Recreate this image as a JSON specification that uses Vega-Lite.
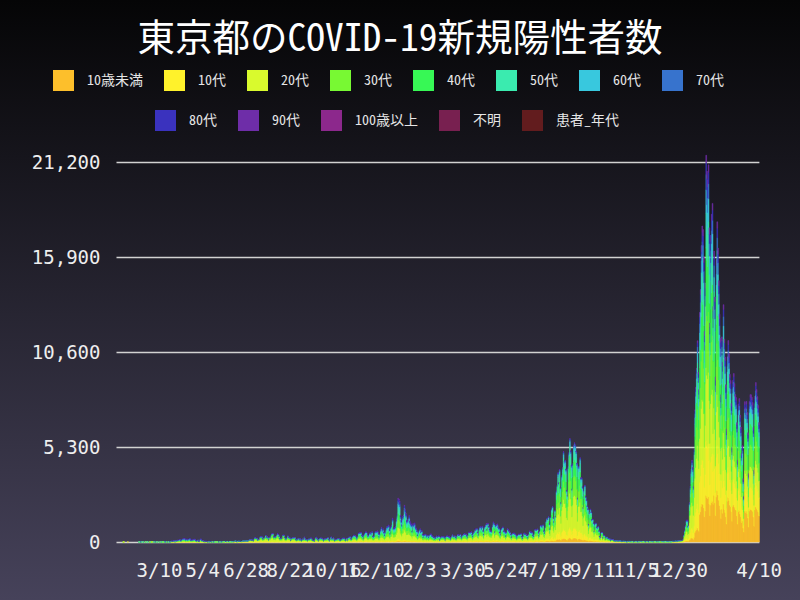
{
"$schema":"https://vega.github.io/schema/vega-lite/v6.json",
"width":800,"height":600,"autosize":"none","padding":0,
"background":"#25232e",
"view":{"stroke":null,"fill":{"gradient":"linear","x1":0,"y1":0,"x2":0,"y2":1,"stops":[{"offset":0,"color":"#050506"},{"offset":1,"color":"#46425a"}]}},
"title":{"text":"東京都のCOVID-19新規陽性者数","fontSize":37.5,"font":"Noto Sans Mono CJK JP, Noto Sans CJK JP, DejaVu Sans Mono","fontWeight":"normal","color":"#ffffff","anchor":"middle","offset":-58},
"data":{"values":"d,10歳未満,10代,20代,30代,40代,50代,60代,70代,80代,90代\n200124,0,0,0,0,1\n200125,0,0,0,1\n200130,0,0,1\n200213,0,0,0,0,0,0,0,1\n200214,0,0,0,0,0,1,1\n200215,0,0,1,1,1,2,1,1,1\n200216,0,0,1,1,1,1,0,1\n200218,0,0,0,1,0,1,1\n200219,0,0,1,0,1,0,0,1\n200221,0,0,0,0,1,1,0,1\n200222,0,0,0,0,0,0,1\n200224,0,0,1,0,1,0,1\n200226,0,0,0,1,0,1,0,0,1\n200227,0,0,0,0,1\n200228,0,0,0,0,0,0,1\n200229,0,0,0,1\n200301,0,0,0,0,0,1\n200302,0,0,1\n200303,0,0,0,1,1,0,0,1\n200304,0,0,1,1,1,1,1,1\n200305,0,0,1,1,2,1,1,1,1\n200306,0,0,1,1,1,1,1,1\n200307,0,0,0,0,1,0,1\n200308,0,0,1,0,0,1,0,1\n200310,0,0,0,1,0,0,1\n200311,0,0,1,1,1,1,1,1,1\n200312,0,0,1,1,1,1,1\n200313,0,0,1,0,1,0,0,1\n200314,0,0,0,1,0,1\n200315,0,0,0,0,0,1\n200316,0,0,1,1,0,1,1\n200317,0,0,2,2,2,1,1,1,1\n200318,0,0,2,1,2,1,1,1,1\n200319,0,0,1,0,1,1\n200320,0,0,2,2,2,2,1,1,1\n200321,0,0,1,1,1,1,1,1,1\n200322,0,0,1,1,1,1,1\n200323,0,0,3,3,3,2,2,2,1\n200324,0,0,3,3,3,3,2,2,1\n200325,0,1,8,7,7,6,5,4,3\n200326,1,1,9,8,7,7,5,4,3,2\n200327,0,1,8,7,6,6,5,4,2,1\n200328,1,1,12,11,10,9,7,6,4,2\n200329,1,1,13,12,11,10,8,6,4,2\n200330,0,0,3,2,2,2,2,1,1\n200331,1,2,15,13,12,12,9,7,5,2\n200401,1,1,13,11,11,10,7,6,5,1\n200402,1,2,18,17,16,15,11,9,6,2\n200403,1,2,17,15,14,13,10,8,6,3\n200404,1,2,22,20,19,17,13,10,8,4\n200405,1,3,27,24,23,22,16,13,10,4\n200406,1,2,16,14,13,12,9,8,6,2\n200407,1,2,15,13,13,12,9,7,5,2\n200408,1,3,27,25,23,22,16,13,10,4\n200409,2,4,34,30,28,27,20,16,12,5\n200410,2,4,36,32,30,28,21,17,13,6\n200411,2,4,37,34,32,30,22,18,13,5\n200412,2,3,32,28,27,25,18,15,12,4\n200413,1,2,17,15,15,14,10,8,6,3\n200414,2,3,31,27,26,24,18,14,11,5\n200415,1,3,24,22,20,19,14,11,9,4\n200416,1,3,28,25,24,22,16,14,11,5\n200417,2,4,38,34,32,30,22,18,15,6\n200418,2,4,34,31,29,27,20,16,13,5\n200419,1,2,20,18,17,16,12,10,8,3\n200420,1,2,19,17,16,15,12,9,8,3\n200421,1,2,23,21,20,18,14,11,9,4\n200422,1,3,25,22,21,20,15,12,9,4\n200423,1,3,25,23,21,20,15,12,10,4\n200424,2,3,31,27,26,24,18,14,11,5\n200425,1,2,20,17,16,15,12,9,8,3\n200426,1,1,14,12,12,11,8,6,5,2\n200427,0,1,7,7,6,6,5,4,2,1\n200428,1,2,21,19,18,17,12,10,8,4\n200429,1,1,9,8,7,7,5,4,3,2\n200430,0,1,9,8,7,7,5,4,3,2\n200501,2,3,31,28,26,25,18,15,12,5\n200502,2,3,30,27,26,24,18,14,11,5\n200503,1,2,17,15,15,14,10,8,6,3\n200504,1,2,17,15,14,13,10,8,5,2\n200505,1,1,11,10,9,9,6,5,4,2\n200506,0,1,7,7,6,6,4,4,2,1\n200507,0,0,5,4,4,3,3,2,1,1\n200508,0,1,7,7,6,6,5,4,2,1\n200509,0,1,7,6,6,5,4,4,2,1\n200510,0,0,4,4,4,3,3,2,1,1\n200511,0,0,3,3,2,2,2,1,1,1\n200512,0,1,5,5,5,4,3,3,2\n200513,0,0,2,2,2,1,1,1,1\n200514,0,1,6,5,5,4,4,3,2\n200515,0,0,2,2,1,1,1,1,1\n200516,0,0,3,3,2,2,2,1,1\n200517,0,0,1,1,1,1,1\n200518,0,0,2,2,2,1,1,1,1\n200519,0,0,1,1,1,1,1\n200520,0,0,1,1,1,1,1\n200521,0,0,1,1,1\n200522,0,0,1,0,1,0,1\n200523,0,0,1,0,0,1\n200524,0,0,4,3,2,2,1,1,1\n200525,0,0,2,2,1,1,1,1\n200526,0,0,3,2,2,1,1,1\n200527,0,0,3,2,2,2,1,1\n200528,0,0,4,3,3,2,1,1,1\n200529,0,1,7,5,3,3,2,1\n200530,0,0,5,3,2,2,1,1\n200531,0,0,2,1,1,1\n200601,0,1,5,3,2,1,1\n200602,0,1,14,8,4,3,2,1,1\n200603,0,0,5,3,2,1,1\n200604,0,1,12,7,3,2,1,1,1\n200605,0,1,8,5,3,2,1\n200606,0,1,11,6,3,2,1,1,1\n200607,0,1,6,3,2,1,1\n200608,0,1,5,3,2,1,1\n200609,0,0,5,3,2,1,1\n200610,0,1,7,4,2,2,1,1\n200611,0,1,9,5,3,2,1,1\n200612,0,1,10,6,3,2,1,1,1\n200613,0,1,10,6,3,2,1,1\n200614,0,2,19,11,6,4,2,2,1\n200615,1,2,20,11,6,4,2,1,1\n200616,0,1,11,7,3,2,1,1,1\n200617,0,1,7,4,2,1,1\n200618,0,2,17,10,5,3,2,1,1\n200619,0,1,15,8,4,3,2,1,1\n200620,0,2,16,9,5,3,2,1,1\n200621,0,1,15,8,4,3,2,1,1\n200622,0,1,12,7,4,2,1,1,1\n200623,0,1,13,7,4,3,1,1,1\n200624,1,2,23,13,7,4,2,2,1\n200625,1,2,20,11,6,4,2,1,1\n200626,1,2,22,13,7,4,2,2,1\n200627,1,2,23,14,7,5,2,2,1\n200628,1,2,25,14,7,5,2,2,1,1\n200629,1,2,24,14,7,5,2,2,1\n200630,1,2,22,13,7,4,2,2,1\n200701,1,3,27,16,8,5,3,2,1,1\n200702,1,4,44,26,13,9,4,3,2,1\n200703,1,5,51,30,15,10,5,4,2,1\n200704,1,5,54,31,16,10,5,4,3,2\n200705,1,4,46,27,13,9,4,3,3,1\n200706,1,4,42,24,12,8,4,3,3,1\n200707,1,4,43,25,13,9,4,3,3,1\n200708,1,3,31,18,9,6,3,2,1,1\n200709,2,9,92,54,27,18,9,7,4,2\n200710,2,10,100,58,29,19,10,7,5,3\n200711,2,8,84,49,25,17,8,6,5,2\n200712,2,8,84,49,25,17,8,6,5,2\n200713,1,5,49,29,14,10,5,3,2,1\n200714,1,6,59,34,17,11,6,4,3,2\n200715,2,7,68,40,20,13,7,5,2,1\n200716,3,11,117,69,34,23,11,9,6,3\n200717,3,12,120,70,35,23,12,9,6,3\n200718,3,12,119,70,35,23,11,9,5,3\n200719,2,8,77,45,23,15,8,6,3,1\n200720,2,7,69,40,20,13,7,5,3,2\n200721,2,9,97,57,28,19,10,7,5,3\n200722,2,10,97,57,28,19,10,7,5,3\n200723,4,15,150,88,44,29,15,11,7,3\n200724,3,10,107,62,31,21,10,8,5,3\n200725,3,12,121,71,35,24,12,9,6,2\n200726,2,10,98,57,29,19,10,7,5,2\n200727,1,5,54,31,16,10,5,4,3,2\n200728,3,11,109,64,32,21,11,8,5,2\n200729,3,10,102,60,30,20,10,8,5,2\n200730,4,15,150,88,44,29,15,11,8,3\n200731,5,19,190,111,56,37,18,14,9,4\n200801,5,19,194,113,57,38,19,14,9,4\n200802,3,12,120,70,35,23,12,9,6,2\n200803,3,10,106,62,31,21,10,8,5,2\n200804,3,12,127,74,37,25,12,9,7,3\n200805,3,11,108,63,32,21,10,8,5,2\n200806,4,14,148,86,43,29,14,11,7,4\n200807,5,18,189,111,55,37,19,14,9,5\n200808,4,17,176,103,51,34,17,13,9,5\n200809,3,13,136,79,40,26,13,10,7,4\n200810,2,8,81,47,24,16,8,6,4,1\n200811,2,8,77,45,23,15,8,6,3,1\n200812,2,9,91,53,27,18,9,7,4,2\n200813,2,8,84,49,25,17,8,6,5,2\n200814,4,16,159,93,47,31,16,12,8,3\n200815,4,15,158,92,46,31,15,12,8,4\n200816,3,10,107,62,31,21,10,8,5,3\n200817,2,6,66,39,19,13,6,5,3,2\n200818,2,8,85,50,25,17,8,6,4,2\n200819,2,7,76,45,22,15,8,6,4,1\n200820,3,14,139,81,41,27,14,10,7,3\n200821,3,10,106,62,31,21,10,8,5,2\n200822,3,10,105,61,31,20,10,8,5,3\n200823,2,8,87,51,25,17,9,6,5,2\n200824,1,4,39,23,11,8,4,3,1,1\n200825,2,7,75,44,22,15,7,5,4,1\n200826,2,9,97,57,28,19,9,7,5,3\n200827,3,10,102,60,30,20,10,8,5,2\n200828,2,9,93,54,27,18,9,7,5,2\n200829,2,10,101,59,30,20,10,7,5,3\n200830,1,6,61,36,18,12,6,4,3,1\n200831,1,4,41,24,12,8,4,3,2,1\n200901,5,12,48,32,26,19,12,8,5,3\n200902,4,10,39,27,21,16,10,7,4,3\n200903,6,15,59,40,32,23,15,11,6,4\n200904,4,10,38,26,20,15,10,7,4,2\n200905,5,13,51,34,27,20,13,9,6,3\n200906,3,8,32,22,17,13,8,6,4,3\n200907,2,5,22,15,12,8,5,4,3,1\n200908,5,12,48,32,26,19,12,8,5,3\n200909,4,10,42,28,22,16,10,8,5,4\n200910,8,19,77,52,41,30,19,14,9,7\n200911,6,13,52,36,28,21,13,9,6,3\n200912,4,10,41,28,22,16,10,7,5,3\n200913,4,10,41,28,22,16,10,7,5,3\n200914,2,6,22,15,12,9,6,4,3,1\n200915,5,11,45,31,24,18,11,8,5,4\n200916,5,11,46,31,24,18,11,8,5,4\n200917,5,12,48,33,26,19,12,9,5,3\n200918,7,15,62,42,33,24,15,11,7,4\n200919,7,15,61,41,33,24,15,11,7,4\n200920,4,9,37,25,20,15,9,7,4,2\n200921,3,7,27,19,15,11,7,5,3,1\n200922,3,6,25,17,13,10,6,4,3,1\n200923,2,4,17,11,9,6,4,3,2,1\n200924,6,14,55,37,29,21,14,10,6,3\n200925,8,19,76,51,40,30,19,14,8,5\n200926,7,15,61,42,33,24,15,11,7,4\n200927,4,10,41,28,22,16,10,7,4,3\n200928,2,5,22,15,12,9,5,4,3,1\n200929,6,13,53,36,29,21,13,10,6,4\n200930,6,14,54,37,29,21,14,10,6,3\n201001,7,16,66,45,35,26,16,12,7,5\n201002,6,14,55,37,29,22,14,10,6,3\n201003,6,15,58,40,31,23,15,10,6,4\n201004,4,10,40,27,21,16,10,7,4,3\n201005,2,5,22,15,12,8,5,4,3,1\n201006,5,12,50,34,27,20,12,9,5,4\n201007,5,12,50,34,27,19,12,9,5,4\n201008,6,14,57,39,30,22,14,10,6,5\n201009,6,13,52,35,28,20,13,9,6,4\n201010,7,17,70,47,37,27,17,12,8,7\n201011,4,10,41,28,22,16,10,7,5,3\n201012,2,5,22,15,12,9,5,4,3,1\n201013,5,12,46,32,25,18,12,8,5,3\n201014,9,20,80,54,43,31,20,14,8,5\n201015,6,13,52,35,28,20,13,9,6,4\n201016,6,13,52,35,28,20,13,9,5,3\n201017,7,16,66,45,35,26,16,12,7,5\n201018,4,9,37,25,20,15,9,7,4,2\n201019,2,5,22,15,12,9,5,4,3,1\n201020,4,10,39,26,21,15,10,7,4,3\n201021,5,11,42,29,22,16,10,7,5,3\n201022,6,13,52,35,28,20,13,9,6,3\n201023,6,13,52,35,28,20,13,9,6,4\n201024,6,14,57,39,30,22,14,10,6,5\n201025,4,9,35,24,19,14,8,6,3,2\n201026,3,7,29,19,15,11,7,5,4,2\n201027,5,11,44,30,24,17,11,8,5,3\n201028,5,12,48,32,26,19,12,9,5,3\n201029,7,15,62,42,33,24,15,11,7,5\n201030,6,15,60,41,32,24,15,11,7,4\n201031,6,15,60,41,32,24,15,11,7,4\n201101,3,8,32,22,17,13,8,6,4,3\n201102,3,6,24,17,13,10,6,4,3,1\n201103,6,15,59,40,31,23,15,10,6,4\n201104,4,9,34,23,18,13,9,6,4,2\n201105,8,19,75,51,40,30,19,13,8,6\n201106,7,17,68,46,36,27,17,12,7,5\n201107,9,21,82,56,44,32,21,15,9,5\n201108,6,13,53,36,28,21,13,9,6,4\n201109,5,11,44,30,24,17,11,8,5,2\n201110,9,21,82,56,44,32,20,15,9,5\n201111,10,22,89,60,48,35,22,16,10,5\n201112,12,28,110,75,59,43,27,20,12,7\n201113,11,26,105,71,56,41,26,19,11,8\n201114,11,25,99,67,53,39,24,18,10,6\n201115,8,18,71,48,38,28,18,13,8,5\n201116,5,13,50,34,27,20,13,9,6,3\n201117,9,21,83,57,45,33,21,15,9,5\n201118,15,35,138,94,74,54,34,25,15,9\n201119,16,37,150,101,80,59,37,27,16,11\n201120,16,37,146,99,78,57,37,26,16,10\n201121,16,38,151,102,81,59,38,27,16,11\n201122,12,27,109,74,59,43,27,20,12,8\n201123,9,22,88,60,47,35,22,16,9,6\n201124,6,13,52,35,28,20,13,9,6,4\n201125,12,28,112,76,60,44,28,20,12,9\n201126,14,34,135,91,72,53,34,24,14,10\n201127,17,40,160,108,86,63,40,28,17,11\n201128,17,39,157,107,84,62,39,28,17,11\n201129,13,29,117,79,63,46,29,21,13,8\n201130,9,22,87,59,47,34,22,16,9,6\n201201,7,19,97,67,56,48,30,22,19,7\n201202,10,25,130,90,75,65,40,30,25,10\n201203,11,27,139,96,80,69,43,32,26,10\n201204,9,22,117,81,67,58,36,27,23,9\n201205,12,29,152,105,88,76,47,35,29,11\n201206,7,16,85,59,49,43,26,20,16,6\n201207,6,15,78,54,45,39,24,18,14,6\n201208,7,18,92,63,53,46,28,21,17,7\n201209,11,29,149,103,86,74,46,34,29,11\n201210,12,30,157,108,90,78,48,36,30,13\n201211,12,30,155,107,89,77,48,36,30,11\n201212,12,31,161,112,93,81,50,37,31,13\n201213,10,24,125,86,72,62,38,29,24,10\n201214,6,15,79,55,46,40,24,18,15,7\n201215,9,23,120,83,69,60,37,28,23,8\n201216,14,34,176,122,102,88,54,41,34,13\n201217,16,41,214,148,123,107,66,49,41,17\n201218,13,33,173,120,100,86,53,40,33,13\n201219,15,37,191,132,110,96,59,44,37,15\n201220,11,28,145,100,83,72,44,33,28,12\n201221,8,20,102,71,59,51,31,24,20,6\n201222,11,28,146,101,84,73,45,34,28,13\n201223,15,37,194,135,112,97,60,45,37,16\n201224,18,44,231,160,133,115,71,53,44,19\n201225,18,44,230,159,133,115,71,53,44,17\n201226,19,47,247,171,142,123,76,57,47,20\n201227,14,35,184,127,106,92,57,42,35,16\n201228,10,24,125,87,72,63,38,29,24,9\n201229,17,43,223,154,128,111,68,51,43,18\n201230,19,47,245,170,142,123,76,57,47,18\n201231,27,67,348,241,200,174,107,80,67,26\n210101,16,39,204,141,117,102,63,47,39,15\n210102,16,41,212,147,122,106,65,49,41,15\n210103,16,41,212,147,122,106,65,49,41,17\n210104,18,44,230,159,133,115,71,53,44,17\n210105,26,64,332,230,192,166,102,77,64,25\n210106,32,80,414,286,239,207,127,95,80,31\n210107,49,122,636,440,367,318,196,147,122,50\n210108,48,120,622,431,359,311,191,144,120,46\n210109,45,113,590,408,340,295,181,136,113,47\n210110,30,75,388,269,224,194,120,90,75,29\n210111,24,61,317,219,183,158,98,73,61,25\n210112,19,49,252,175,146,126,78,58,49,18\n210113,29,72,373,258,215,186,115,86,72,27\n210114,30,75,391,270,225,195,120,90,75,31\n210115,41,102,531,368,307,266,164,123,102,40\n210116,36,90,470,326,271,235,145,109,90,37\n210117,32,80,414,287,239,207,127,95,80,31\n210118,24,60,313,217,181,157,96,72,60,24\n210119,25,62,322,223,186,161,99,74,62,26\n210120,25,64,331,229,191,166,102,76,64,26\n210121,29,74,382,265,221,191,118,88,74,29\n210122,24,59,306,211,176,153,94,70,59,23\n210123,21,54,278,193,160,139,86,64,54,21\n210124,20,49,256,177,148,128,79,59,49,21\n210125,12,31,161,111,93,80,49,37,31,13\n210126,21,51,267,185,154,133,82,62,51,20\n210127,19,49,253,175,146,126,78,58,49,20\n210128,21,53,277,192,160,138,85,64,53,21\n210129,17,43,226,156,130,113,69,52,43,19\n210130,15,38,200,138,115,100,62,46,38,17\n210131,13,32,165,114,95,82,51,38,32,11\n210201,8,20,102,71,59,51,31,24,20,7\n210202,11,28,145,100,83,72,44,33,28,12\n210203,14,34,176,122,101,88,54,41,34,12\n210204,15,37,191,132,110,95,59,44,37,14\n210205,12,29,150,104,87,75,46,35,29,10\n210206,13,32,166,115,96,83,51,38,32,13\n210207,9,21,112,77,64,56,34,26,21,9\n210208,6,14,72,50,41,36,22,17,14,4\n210209,8,21,107,74,62,54,33,25,21,7\n210210,8,21,107,74,62,54,33,25,21,7\n210211,9,22,113,78,65,56,35,26,22,8\n210212,6,15,80,55,46,40,25,18,15,7\n210213,7,18,96,66,55,48,30,22,18,9\n210214,7,19,96,67,56,48,30,22,19,7\n210215,5,13,69,48,40,35,21,16,13,6\n210216,8,19,98,68,57,49,30,23,19,7\n210217,9,22,116,80,67,58,36,27,22,8\n210218,9,22,116,80,67,58,36,27,22,8\n210219,7,18,92,64,53,46,28,21,18,6\n210220,7,16,85,59,49,43,26,20,16,6\n210221,5,14,71,49,41,35,22,16,14,5\n210222,4,9,46,32,27,23,14,11,9,3\n210223,6,14,72,50,41,36,22,16,13,5\n210224,4,11,55,38,32,28,17,13,11,4\n210225,7,17,88,61,51,44,27,20,17,8\n210226,5,14,70,49,41,35,22,16,13,5\n210227,7,17,88,61,51,44,27,20,17,5\n210228,7,16,86,59,49,43,26,20,16,7\n210301,4,10,38,22,18,13,7,5,2,2\n210302,7,19,72,42,35,25,14,9,5,4\n210303,9,25,98,57,47,35,19,13,7,6\n210304,8,22,86,50,42,31,17,11,6,6\n210305,9,24,93,54,45,33,18,12,7,6\n210306,9,23,91,53,44,32,18,12,6,5\n210307,7,19,73,43,36,26,14,9,5,5\n210308,3,9,36,21,17,13,7,5,3,2\n210309,9,23,90,52,44,32,17,12,6,5\n210310,10,27,105,61,51,37,20,14,8,7\n210311,10,27,104,60,50,37,20,13,8,6\n210312,9,24,94,55,46,33,18,12,7,6\n210313,9,23,90,52,43,32,17,12,6,5\n210314,7,19,74,43,36,26,14,10,5,5\n210315,5,14,54,32,26,19,11,7,4,3\n210316,9,24,93,54,45,33,18,12,6,6\n210317,12,33,127,74,61,45,25,16,9,7\n210318,10,26,100,58,48,36,19,13,7,6\n210319,9,24,94,55,45,33,18,12,7,6\n210320,10,27,106,62,51,38,21,14,7,6\n210321,8,20,79,46,38,28,15,10,6,6\n210322,6,15,58,34,28,21,11,7,4,3\n210323,10,27,104,61,51,37,20,13,7,7\n210324,13,34,130,76,63,46,25,17,9,7\n210325,12,32,122,71,59,43,24,16,8,7\n210326,11,30,117,68,56,41,23,15,8,7\n210327,13,34,133,77,65,47,26,17,10,8\n210328,9,25,97,56,47,34,19,13,7,6\n210329,7,19,73,42,35,26,14,9,5,4\n210330,11,29,113,66,55,40,22,15,7,6\n210331,12,33,128,75,62,46,25,17,9,7\n210401,14,38,147,86,71,52,29,19,10,9\n210402,13,35,136,79,66,48,26,18,10,9\n210403,13,36,138,80,67,49,27,18,10,8\n210404,11,28,110,64,53,39,21,14,8,7\n210405,7,20,77,45,37,27,15,10,6,5\n210406,12,32,124,72,60,44,24,16,8,7\n210407,17,44,172,100,83,61,33,22,12,11\n210408,16,44,169,98,82,60,33,22,11,10\n210409,16,43,166,97,81,59,32,21,12,10\n210410,17,46,177,103,86,63,34,23,11,10\n210411,13,34,130,76,63,46,25,17,9,8\n210412,9,24,95,55,46,34,18,12,7,6\n210413,15,41,158,92,77,56,31,20,11,9\n210414,18,47,183,106,89,65,35,24,13,11\n210415,22,58,226,131,109,80,44,29,16,14\n210416,20,53,207,120,100,73,40,27,14,13\n210417,23,61,235,137,114,83,46,30,16,14\n210418,16,43,168,98,81,60,33,22,12,10\n210419,12,32,126,73,61,45,24,16,9,7\n210420,21,57,220,128,107,78,43,28,16,13\n210421,25,67,261,152,126,93,51,34,18,16\n210422,26,69,267,155,129,95,52,34,18,16\n210423,23,61,235,137,114,83,46,30,16,14\n210424,26,70,272,158,131,96,53,35,19,16\n210425,19,51,197,114,95,70,38,25,14,12\n210426,13,34,132,77,64,47,25,17,9,7\n210427,25,66,257,149,124,91,50,33,18,15\n210428,28,74,287,167,139,102,55,37,19,17\n210429,31,82,318,185,154,113,62,41,22,19\n210430,21,56,216,126,105,77,42,28,15,12\n210501,32,84,326,189,158,116,63,42,21,19\n210502,26,70,272,158,132,97,53,35,19,17\n210503,21,57,219,127,106,78,42,28,16,14\n210504,18,49,189,110,91,67,37,24,13,11\n210505,19,50,193,112,93,68,37,25,13,11\n210506,18,47,183,106,89,65,35,24,13,11\n210507,27,73,281,163,136,100,54,36,20,17\n210508,34,90,348,202,168,123,67,45,24,20\n210509,31,83,320,186,155,114,62,41,21,19\n210510,17,46,178,103,86,63,34,23,12,11\n210511,28,74,287,167,139,102,55,37,19,17\n210512,29,78,300,174,145,107,58,39,21,18\n210513,30,81,313,182,152,111,61,40,21,19\n210514,26,68,265,154,128,94,51,34,18,16\n210515,23,62,239,139,116,85,46,31,17,14\n210516,16,43,168,98,81,60,33,22,11,10\n210517,13,34,130,75,63,46,25,17,9,7\n210518,22,59,227,132,110,81,44,29,15,13\n210519,23,61,237,138,115,84,46,31,17,14\n210520,25,67,261,152,126,93,51,34,18,16\n210521,18,49,190,111,92,68,37,25,13,11\n210522,19,50,192,112,93,68,37,25,13,11\n210523,16,43,166,96,80,59,32,21,12,10\n210524,10,27,105,61,51,37,20,14,8,7\n210525,16,44,169,98,82,60,33,22,11,10\n210526,22,59,230,134,111,82,45,30,16,14\n210527,21,55,212,123,103,75,41,27,15,12\n210528,18,49,190,111,92,68,37,25,13,11\n210529,16,43,167,97,81,59,32,22,12,10\n210530,13,34,132,77,64,47,26,17,9,7\n210531,8,21,81,47,39,29,15,10,5,5\n210601,14,38,146,85,71,52,28,19,10,8\n210602,15,39,151,88,73,54,29,19,10,9\n210603,15,41,157,91,76,56,31,20,11,10\n210604,14,38,146,85,71,52,28,19,10,9\n210605,13,35,135,78,65,48,26,17,10,9\n210606,11,28,109,63,53,39,21,14,7,6\n210607,7,19,73,42,35,26,14,9,5,5\n210608,11,30,114,66,55,41,22,15,8,7\n210609,13,35,136,79,66,48,26,18,10,9\n210610,13,35,136,79,66,48,26,18,10,8\n210611,13,35,135,78,65,48,26,17,10,8\n210612,14,37,145,84,70,51,28,19,10,9\n210613,9,24,94,55,46,33,18,12,7,6\n210614,6,17,65,38,31,23,13,8,4,4\n210615,10,27,104,61,51,37,20,13,7,7\n210616,15,40,155,90,75,55,30,20,11,10\n210617,14,36,140,81,68,50,27,18,10,8\n210618,14,36,140,82,68,50,27,18,10,8\n210619,12,31,120,70,58,43,23,16,8,7\n210620,11,30,117,68,56,41,23,15,8,7\n210621,7,19,73,42,35,26,14,10,5,5\n210622,13,35,135,78,65,48,26,17,10,8\n210623,19,50,192,111,93,68,37,25,13,11\n210624,17,46,177,103,86,63,34,23,11,10\n210625,17,45,174,101,84,62,34,22,12,11\n210626,16,43,166,96,80,59,32,21,11,10\n210627,12,31,120,69,58,42,23,15,9,7\n210628,10,25,98,57,48,35,19,13,6,6\n210629,14,38,148,86,71,52,29,19,10,9\n210630,21,57,221,129,107,79,43,29,15,13\n210701,27,67,222,135,108,67,27,13,5,2\n210702,26,66,218,132,106,66,26,13,5,2\n210703,29,72,236,143,115,72,29,14,5,1\n210704,21,52,171,104,83,52,21,10,3,1\n210705,14,34,113,68,55,34,14,7,2,1\n210706,24,59,196,119,95,59,24,12,4,1\n210707,37,92,304,184,147,92,37,18,6,3\n210708,36,90,296,179,143,90,36,18,6,2\n210709,33,82,271,164,132,82,33,16,6,3\n210710,38,95,314,190,152,95,38,19,7,2\n210711,25,61,203,123,98,61,25,12,4,2\n210712,20,50,166,100,80,50,20,10,4,2\n210713,33,83,274,166,133,83,33,17,6,2\n210714,46,115,379,230,184,115,46,23,8,3\n210715,52,131,432,262,209,131,52,26,9,4\n210716,51,127,419,254,203,127,51,25,9,5\n210717,56,141,465,282,226,141,56,28,10,5\n210718,40,101,333,202,161,101,40,20,7,3\n210719,29,73,240,145,116,73,29,15,5,2\n210720,55,139,458,277,222,139,55,28,10,4\n210721,73,183,605,366,293,183,73,37,13,6\n210722,79,198,653,396,317,198,79,40,14,5\n210723,54,136,448,272,217,136,54,27,10,5\n210724,45,113,372,226,180,113,45,23,8,3\n210725,71,176,582,353,282,176,71,35,12,5\n210726,57,143,472,286,229,143,57,29,10,3\n210727,114,285,940,570,456,285,114,57,20,7\n210728,127,318,1048,635,508,318,127,64,22,10\n210729,155,387,1275,773,618,387,155,77,27,11\n210730,132,330,1089,660,528,330,132,66,23,10\n210731,162,406,1339,812,649,406,162,81,28,13\n210801,122,306,1009,612,489,306,122,61,21,10\n210802,88,220,724,439,351,220,88,44,15,6\n210803,148,371,1224,742,593,371,148,74,26,12\n210804,167,417,1375,833,667,417,167,83,29,11\n210805,202,504,1664,1008,807,504,202,101,35,15\n210806,181,452,1490,903,722,452,181,90,32,12\n210807,183,457,1507,913,731,457,183,91,32,12\n210808,163,407,1342,813,651,407,163,81,28,11\n210809,115,288,952,577,461,288,115,58,20,10\n210810,104,261,862,522,418,261,104,52,18,10\n210811,168,420,1386,840,672,420,168,84,29,13\n210812,200,499,1646,998,798,499,200,100,35,14\n210813,231,577,1905,1155,924,577,231,115,40,18\n210814,204,509,1681,1019,815,509,204,102,36,15\n210815,172,430,1417,859,687,430,172,86,30,12\n210816,118,296,977,592,474,296,118,59,21,11\n210817,175,438,1444,875,700,438,175,88,31,13\n210818,215,539,1777,1077,862,539,215,108,38,16\n210819,221,553,1826,1107,885,553,221,111,39,18\n210820,216,541,1784,1081,865,541,216,108,38,15\n210821,203,507,1674,1015,812,507,203,101,36,16\n210822,176,439,1449,878,703,439,176,88,31,13\n210823,98,245,808,489,392,245,98,49,17,6\n210824,169,422,1393,844,675,422,169,84,30,12\n210825,169,423,1395,846,676,423,169,85,30,12\n210826,188,470,1552,941,753,470,188,94,33,15\n210827,143,358,1182,716,573,358,143,72,25,11\n210828,143,358,1182,716,573,358,143,72,25,11\n210829,123,308,1017,616,493,308,123,62,22,9\n210830,77,192,632,383,306,192,77,38,13,5\n210831,116,291,960,582,465,291,116,58,20,10\n210901,127,317,1045,634,507,317,127,63,22,9\n210902,102,254,838,508,406,254,102,51,18,6\n210903,94,236,779,472,378,236,94,47,17,9\n210904,80,201,663,402,322,201,80,40,14,7\n210905,74,185,611,371,296,185,74,37,13,7\n210906,39,97,319,194,155,97,39,19,7,2\n210907,65,163,538,326,261,163,65,33,11,4\n210908,73,183,605,367,293,183,73,37,13,7\n210909,67,168,553,335,268,168,67,34,12,3\n210910,50,124,410,248,199,124,50,25,9,3\n210911,51,127,420,255,204,127,51,25,9,4\n210912,43,107,352,213,171,107,43,21,7,3\n210913,24,61,202,122,98,61,24,12,4,3\n210914,40,100,331,201,161,100,40,20,7,4\n210915,42,105,347,210,168,105,42,21,7,5\n210916,33,83,274,166,133,83,33,17,6,3\n210917,31,78,258,156,125,78,31,16,6,3\n210918,34,86,284,172,138,86,34,17,6,5\n210919,25,62,204,123,99,62,25,12,4,1\n210920,12,30,100,60,48,30,12,6,2,2\n210921,10,25,83,51,40,25,10,5,2,2\n210922,21,54,177,107,86,54,21,11,4,2\n210923,21,53,175,106,85,53,21,11,4,2\n210924,9,24,78,47,38,23,9,5,1,1\n210925,15,38,126,77,61,38,15,8,3,2\n210926,14,36,119,72,58,36,14,7,3,3\n210927,6,15,51,31,25,15,6,3,1,1\n210928,10,25,82,50,40,25,10,5,1\n210929,11,27,88,53,43,27,11,5,2\n210930,9,22,72,44,35,22,9,4,1\n211001,10,16,56,36,32,24,12,8,4,2\n211002,10,16,55,35,31,24,12,8,4,1\n211003,8,13,45,29,26,19,10,6,3,2\n211004,4,7,24,16,14,10,5,4,2,1\n211005,7,12,42,27,24,18,9,6,3,1\n211006,7,12,40,26,23,17,9,6,3,1\n211007,7,11,39,25,22,17,8,5,3,1\n211008,4,7,23,15,13,10,5,3,1,1\n211009,4,6,21,13,12,9,4,3,1,1\n211010,3,5,17,11,10,7,4,2,1\n211011,2,4,14,9,8,6,3,2,1\n211012,4,6,22,14,12,9,5,3,1,1\n211013,3,5,17,11,10,8,4,2,1,1\n211014,3,5,17,11,10,8,4,2,1,1\n211015,4,6,20,13,12,9,4,3,1\n211016,3,5,19,12,11,8,4,3,1\n211017,2,3,11,7,7,5,2,2,1\n211018,1,2,8,5,5,4,2,1,1\n211019,2,3,10,7,6,4,2,1,1\n211020,2,3,11,8,7,5,3,1,1\n211021,2,3,10,7,6,4,2,1,1\n211022,1,2,7,5,4,3,2,1,1\n211023,2,3,9,6,5,4,2,1\n211024,1,2,5,3,3,2,1,1,1\n211025,1,1,5,3,3,2,1,1\n211026,1,2,8,5,5,4,2,1,1\n211027,2,3,10,7,6,4,2,1,1\n211028,1,2,6,4,3,3,1,1\n211029,1,2,6,4,4,3,2,1\n211030,1,2,6,4,4,3,1,1\n211031,1,2,6,4,3,3,1,1\n211101,0,1,3,2,1,1,1\n211102,1,1,5,3,3,2,1,1,1\n211103,1,2,8,5,5,4,2,1,1\n211104,1,1,5,3,3,2,1,1\n211105,1,2,7,5,4,3,2,1\n211106,1,2,6,4,3,2,1,1\n211107,1,2,5,3,3,2,1,1,1\n211108,1,1,3,2,2,2,1\n211109,1,1,5,3,3,2,1,1,1\n211110,1,2,7,4,4,3,2,1\n211111,2,3,9,6,5,4,2,1\n211112,1,2,6,4,4,3,1,1\n211113,1,2,6,4,4,3,1,1\n211114,1,1,5,3,3,2,1\n211115,0,1,2,1,1,1\n211116,1,2,6,4,3,3,1,1\n211117,1,1,5,3,3,2,1,1,1\n211118,1,2,6,4,4,3,1,1\n211119,1,2,7,5,4,3,2,1\n211120,1,2,7,4,4,3,2,1\n211121,1,1,5,3,3,2,1,1,1\n211122,0,1,2,2,1,1,1\n211123,0,1,2,1,1,1\n211124,1,1,5,3,3,2,1,1\n211125,1,2,6,4,4,3,1,1\n211126,1,1,5,3,3,2,1,1\n211127,1,2,5,3,3,2,1,1,1\n211128,1,1,4,3,2,2,1,1\n211129,0,1,2,1,1,1\n211130,1,1,5,3,3,2,1\n211201,1,2,6,4,3,2,1,1\n211202,1,1,4,3,2,2,1\n211203,1,2,5,3,3,2,1,1,1\n211204,1,1,5,3,3,2,1,1\n211205,0,1,3,2,1,1,1\n211206,0,0,1,1,1\n211207,1,2,6,4,3,2,1,1\n211208,1,2,6,4,3,3,1,1\n211209,1,2,6,4,4,3,1,1\n211210,1,1,5,3,3,3,1,1\n211211,1,1,5,3,3,2,1,1\n211212,0,1,3,2,2,1,1\n211213,0,1,2,1,1,1,1\n211214,1,2,7,4,4,3,1,1\n211215,1,2,6,4,3,3,1,1\n211216,1,1,5,3,3,2,1,1\n211217,1,2,8,5,4,3,2,1,1\n211218,1,1,5,3,3,2,1,1\n211219,1,1,4,3,2,2,1,1\n211220,1,1,5,3,3,2,1\n211221,2,3,10,7,6,4,2,1,1\n211222,1,2,8,5,5,3,2,1,1\n211223,2,3,10,7,6,4,2,2,1\n211224,2,3,10,7,6,4,2,1,1\n211225,2,4,14,9,8,6,3,2,1\n211226,2,3,10,7,6,4,2,2,1\n211227,2,3,12,8,7,5,3,2,1\n211228,2,4,13,8,7,6,3,2,1\n211229,4,6,21,14,12,9,5,3,1,1\n211230,3,5,18,12,10,8,4,3,1\n211231,4,6,22,14,12,9,5,3,2,1\n220101,4,9,25,14,11,7,4,3,1,1\n220102,4,10,26,15,12,8,4,3,1,1\n220103,5,12,32,19,14,9,5,3,2,2\n220104,8,18,47,27,21,14,8,4,3,1\n220105,20,47,121,70,55,35,20,12,7,3\n220106,32,77,199,115,90,58,32,19,13,6\n220107,46,111,286,166,129,83,46,28,18,9\n220108,61,147,379,220,171,110,61,37,25,13\n220109,61,147,379,220,171,110,61,37,24,13\n220110,44,105,270,157,122,78,44,26,17,8\n220111,48,115,298,173,135,87,48,29,19,10\n220112,110,264,681,396,308,198,110,66,44,21\n220113,156,375,968,562,437,281,156,94,62,33\n220114,203,486,1256,729,567,365,203,122,81,39\n220115,228,547,1414,821,639,410,228,137,91,46\n220116,209,501,1293,751,584,375,209,125,83,42\n220117,155,372,960,557,434,279,155,93,62,30\n220118,259,622,1607,933,726,467,259,156,104,52\n220119,516,885,2139,1328,1033,664,369,221,148,74\n220120,605,1037,2505,1555,1209,777,432,259,173,86\n220121,679,1164,2813,1746,1358,873,485,291,194,96\n220122,786,1347,3256,2021,1572,1010,561,337,225,112\n220123,663,1136,2746,1704,1326,852,473,284,189,95\n220124,595,1020,2466,1531,1190,765,425,255,170,86\n220125,1538,1794,2434,2050,1922,1153,769,513,384,256\n220126,1690,1972,2676,2254,2113,1268,845,563,423,282\n220127,1985,2315,3142,2646,2481,1488,992,662,496,331\n220128,2116,2468,3350,2821,2645,1587,1058,705,529,352\n220129,2092,2441,3312,2789,2615,1569,1046,697,523,349\n220130,1907,2225,3020,2543,2384,1431,954,636,477,318\n220131,1410,1645,2233,1880,1763,1058,705,470,353,234\n220201,1733,2022,2745,2311,2167,1300,867,578,433,289\n220202,2589,3021,4099,3452,3236,1942,1295,863,647,432\n220203,2481,2895,3929,3309,3102,1861,1241,827,620,414\n220204,2425,2829,3839,3233,3031,1818,1212,808,606,404\n220205,2525,2946,3998,3367,3156,1894,1263,842,631,420\n220206,2103,2454,3330,2804,2629,1577,1052,701,526,350\n220207,1466,1710,2321,1954,1832,1099,733,489,366,244\n220208,2054,2396,3251,2738,2567,1540,1027,685,513,342\n220209,2194,2560,3475,2926,2743,1646,1097,731,549,366\n220210,2267,2645,3589,3023,2834,1700,1133,756,567,377\n220211,2101,1839,2101,2101,1970,1182,657,525,394,264\n220212,2597,2272,2597,2597,2435,1461,812,649,487,325\n220213,2187,1913,2187,2187,2050,1230,683,547,410,273\n220214,1473,1289,1473,1473,1381,829,460,368,276,185\n220215,2521,2206,2521,2521,2364,1418,788,630,473,317\n220216,2858,2501,2858,2858,2680,1608,893,715,536,357\n220217,2623,2295,2623,2623,2459,1476,820,656,492,329\n220218,2332,2041,2332,2332,2186,1312,729,583,437,292\n220219,2034,1780,2034,2034,1907,1144,636,508,381,253\n220220,1818,1591,1818,1818,1705,1023,568,455,341,227\n220221,1315,1151,1315,1315,1233,740,411,329,247,164\n220222,1831,1602,1831,1831,1717,1030,572,458,343,229\n220223,1604,1403,1604,1604,1504,902,501,401,301,200\n220224,2119,1854,2119,2119,1986,1192,662,530,397,263\n220225,1813,1586,1813,1813,1699,1020,566,453,340,226\n220226,1652,1445,1652,1652,1548,929,516,413,310,206\n220227,1404,1228,1404,1404,1316,790,439,351,263,175\n220228,1006,881,1006,1006,944,566,315,252,189,125\n220301,2272,1549,1446,1549,1446,826,413,310,310,208\n220302,2473,1686,1574,1686,1574,899,450,337,337,224\n220303,2313,1577,1472,1577,1472,841,420,315,315,210\n220304,2058,1403,1310,1403,1310,748,374,281,281,186\n220305,1983,1352,1262,1352,1262,721,361,270,270,181\n220306,1700,1159,1082,1159,1082,618,309,232,232,155\n220307,1161,792,739,792,739,422,211,158,158,105\n220308,1984,1353,1262,1353,1262,721,361,270,270,181\n220309,2069,1411,1317,1411,1317,752,376,282,282,189\n220310,1945,1326,1238,1326,1238,707,354,265,265,178\n220311,1810,1234,1152,1234,1152,658,329,247,247,164\n220312,1774,1209,1129,1209,1129,645,322,242,242,161\n220313,1465,999,932,999,932,533,266,200,200,132\n220314,1003,684,638,684,638,365,182,137,137,92\n220315,1694,1155,1078,1155,1078,616,308,231,231,156\n220316,1761,1200,1120,1200,1120,640,320,240,240,162\n220317,1557,1062,991,1062,991,566,283,212,212,143\n220318,1412,963,898,963,898,513,257,193,193,127\n220319,1086,740,691,740,691,395,197,148,148,99\n220320,1183,806,753,806,753,430,215,161,161,108\n220321,777,530,495,530,495,283,141,106,106,70\n220322,559,381,356,381,356,203,102,76,76,52\n220323,1723,1175,1096,1175,1096,626,313,235,235,157\n220324,1648,1124,1049,1124,1049,599,300,225,225,148\n220325,1726,1177,1098,1177,1098,628,314,235,235,158\n220326,1590,1084,1012,1084,1012,578,289,217,217,144\n220327,1341,914,853,914,853,488,244,183,183,122\n220328,837,571,533,571,533,304,152,114,114,76\n220329,1726,1177,1098,1177,1098,628,314,235,235,158\n220330,1810,1234,1152,1234,1152,658,329,247,247,163\n220331,1807,1232,1150,1232,1150,657,329,246,246,164\n220401,1777,1212,1131,1212,1131,646,323,242,242,162\n220402,1711,1167,1089,1167,1089,622,311,233,233,155\n220403,1405,958,894,958,894,511,256,192,192,128\n220404,883,602,562,602,562,321,161,120,120,81\n220405,1789,1220,1138,1220,1138,650,325,244,244,163\n220406,1958,1335,1246,1335,1246,712,356,267,267,179\n220407,1872,1277,1192,1277,1192,681,340,255,255,170\n220408,1785,1217,1136,1217,1136,649,324,243,243,162\n220409,1677,1143,1067,1143,1067,610,305,229,229,152\n220410,1465,999,933,999,933,533,266,200,200,133",
"format":{"type":"csv","parse":{"d":"date:'%y%m%d'","10歳未満":"number","10代":"number","20代":"number","30代":"number","40代":"number","50代":"number","60代":"number","70代":"number","80代":"number","90代":"number"}}},
"transform":[
{"fold":["10歳未満","10代","20代","30代","40代","50代","60代","70代","80代","90代"],"as":["key","value"]},
{"lookup":"key","from":{"data":{"values":[{"key":"10歳未満","i":1},{"key":"10代","i":2},{"key":"20代","i":3},{"key":"30代","i":4},{"key":"40代","i":5},{"key":"50代","i":6},{"key":"60代","i":7},{"key":"70代","i":8},{"key":"80代","i":9},{"key":"90代","i":10}]},"key":"key","fields":["i"]}}
],
"layer":[
{"mark":{"type":"bar","binSpacing":0,"strokeWidth":0.5},
"encoding":{
"x":{"field":"d","timeUnit":"yearmonthdate","type":"temporal","title":null,
"scale":{"domain":[{"year":2020,"month":1,"date":16},{"year":2022,"month":4,"date":11}],"range":[116,758.9],"nice":false},
"axis":{"orient":"bottom","offset":-58,"grid":false,"domain":false,"ticks":false,"labelPadding":19,"labelFontSize":19,"labelColor":"#eeeeee","labelFont":"DejaVu Sans Mono","format":"%-m/%-d","formatType":"time","labelOverlap":false,"labelFlush":false,"labelBound":false,"labelAngle":0,
"values":[{"year":2020,"month":3,"date":10,"hours":12},{"year":2020,"month":5,"date":4,"hours":12},{"year":2020,"month":6,"date":28,"hours":12},{"year":2020,"month":8,"date":22,"hours":12},{"year":2020,"month":10,"date":16,"hours":12},{"year":2020,"month":12,"date":10,"hours":12},{"year":2021,"month":2,"date":3,"hours":12},{"year":2021,"month":3,"date":30,"hours":12},{"year":2021,"month":5,"date":24,"hours":12},{"year":2021,"month":7,"date":18,"hours":12},{"year":2021,"month":9,"date":11,"hours":12},{"year":2021,"month":11,"date":5,"hours":12},{"year":2021,"month":12,"date":30,"hours":12},{"year":2022,"month":4,"date":10,"hours":12}]}},
"y":{"field":"value","type":"quantitative","stack":"zero","title":null,
"scale":{"domain":[0,21200],"range":[542,162],"nice":false,"zero":true},
"axis":{"orient":"left","offset":-116,"values":[0,5300,10600,15900,21200],"format":",d","grid":true,"gridColor":"#d2d2d2","gridWidth":1.6,"gridOpacity":1,"domain":false,"ticks":false,"labelPadding":16,"labelFontSize":19,"labelColor":"#eeeeee","labelFont":"DejaVu Sans Mono"}},
"color":{"field":"key","type":"nominal",
"scale":{"domain":["10歳未満","10代","20代","30代","40代","50代","60代","70代","80代","90代","100歳以上","不明","患者_年代"],"range":["#fdbf2b","#fff22b","#d9fa2d","#78f933","#37f855","#3aebaf","#38c8de","#3773cd","#3a32be","#6e2da8","#8c288c","#782050","#621c1e"]},
"legend":{"orient":"none","legendX":53,"legendY":70,"direction":"horizontal","columns":8,"values":["10歳未満","10代","20代","30代","40代","50代","60代","70代"],"title":null,"symbolType":"square","symbolSize":441,"symbolStrokeWidth":0,"symbolOpacity":1,"labelFont":"Noto Sans Mono CJK JP, Noto Sans CJK JP, DejaVu Sans Mono","labelFontSize":14,"labelColor":"#e6e6e6","labelOffset":13,"columnPadding":21,"padding":0,"rowPadding":0}},
"stroke":{"field":"key","type":"nominal","legend":null,
"scale":{"domain":["10歳未満","10代","20代","30代","40代","50代","60代","70代","80代","90代","100歳以上","不明","患者_年代"],"range":["#fdbf2b","#fff22b","#d9fa2d","#78f933","#37f855","#3aebaf","#38c8de","#3773cd","#3a32be","#6e2da8","#8c288c","#782050","#621c1e"]}},
"order":{"field":"i","type":"quantitative","sort":"ascending"}
}},
{"transform":[{"filter":"false"}],
"mark":{"type":"bar"},
"encoding":{
"color":{"field":"key","type":"nominal",
"scale":{"domain":["10歳未満","10代","20代","30代","40代","50代","60代","70代","80代","90代","100歳以上","不明","患者_年代"],"range":["#fdbf2b","#fff22b","#d9fa2d","#78f933","#37f855","#3aebaf","#38c8de","#3773cd","#3a32be","#6e2da8","#8c288c","#782050","#621c1e"]},
"legend":{"orient":"none","legendX":155,"legendY":110,"direction":"horizontal","columns":5,"values":["80代","90代","100歳以上","不明","患者_年代"],"title":null,"symbolType":"square","symbolSize":441,"symbolStrokeWidth":0,"symbolOpacity":1,"labelFont":"Noto Sans Mono CJK JP, Noto Sans CJK JP, DejaVu Sans Mono","labelFontSize":14,"labelColor":"#e6e6e6","labelOffset":13,"columnPadding":21,"padding":0,"rowPadding":0}}
}}
],
"resolve":{"scale":{"color":"independent"},"legend":{"color":"independent"}},
"config":{"view":{"stroke":null}}
}
